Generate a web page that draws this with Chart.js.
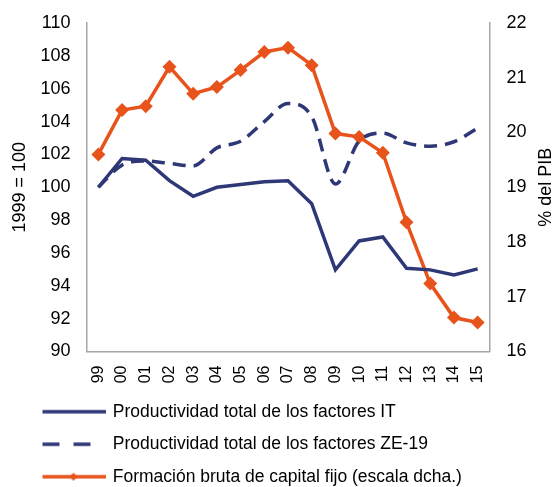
<!DOCTYPE html>
<html>
<head>
<meta charset="utf-8">
<script src="https://cdn.jsdelivr.net/npm/chart.js@4"></script>
<style>
  body { margin: 0; background: #fff; }
</style>
</head>
<body>
<canvas id="myChart" width="554" height="487"></canvas>
<script>
const years = ['99', '00', '01', '02', '03', '04', '05', '06', '07', '08', '09', '10', '11', '12', '13', '14', '15'];
const ptfIT = [100.0, 101.75, 101.65, 100.4, 99.45, 100.0, 100.17, 100.33, 100.4, 99.0, 94.97, 96.73, 96.97, 95.07, 94.97, 94.66, 95.03];
const ptfZE = [100.0, 101.35, 101.6, 101.45, 101.3, 102.4, 102.8, 104.0, 105.1, 104.3, 100.2, 102.8, 103.3, 102.7, 102.5, 102.77, 103.6];
const fbcf = [19.6, 20.41, 20.48, 21.2, 20.71, 20.83, 21.14, 21.47, 21.55, 21.23, 19.98, 19.92, 19.63, 18.36, 17.24, 16.62, 16.53];

const navy = '#2e3877';
const orange = '#e8531c';
const fontFamily = 'Liberation Sans, Arial, sans-serif';

// little line samples for the legend
function legendIcon(color, dash, len, marker) {
  const c = document.createElement('canvas');
  c.width = 64;
  c.height = 12;
  const ctx = c.getContext('2d');
  ctx.strokeStyle = color;
  ctx.lineWidth = 3.5;
  ctx.setLineDash(dash);
  ctx.beginPath();
  ctx.moveTo(1, 6);
  ctx.lineTo(len, 6);
  ctx.stroke();
  if (marker) {
    ctx.fillStyle = color;
    ctx.beginPath();
    ctx.moveTo(32, 2);
    ctx.lineTo(36, 6);
    ctx.lineTo(32, 10);
    ctx.lineTo(28, 6);
    ctx.closePath();
    ctx.fill();
  }
  return c;
}

const icons = [
  legendIcon(navy, [], 64, false),
  legendIcon(navy, [17, 14], 49, false),
  legendIcon(orange, [], 64, true),
];

const data = {
  labels: years,
  datasets: [{
    label: 'Productividad total de los factores IT',
    data: ptfIT,
    borderColor: navy,
    backgroundColor: navy,
    borderWidth: 3.5,
    pointRadius: 0,
    yAxisID: 'y',
  }, {
    label: 'Productividad total de los factores ZE-19',
    data: ptfZE,
    borderColor: navy,
    backgroundColor: navy,
    borderWidth: 3.5,
    borderDash: [13, 8],
    pointRadius: 0,
    cubicInterpolationMode: 'monotone',
    yAxisID: 'y',
  }, {
    label: 'Formación bruta de capital fijo (escala dcha.)',
    data: fbcf,
    borderColor: orange,
    backgroundColor: orange,
    borderWidth: 3.5,
    pointStyle: 'rectRot',
    pointRadius: 7,
    pointBorderWidth: 0,
    yAxisID: 'y1',
  }]
};

// legend sits further right and lower than chart.js puts it;
// right axis title reads bottom-to-top like the left one
const tweaks = {
  id: 'tweaks',
  beforeDraw(chart) {
    chart.legend.left = 28;
    chart.legend.top = 388;
  },
  afterDraw(chart) {
    const s = chart.scales.y1;
    const ctx = chart.ctx;
    ctx.save();
    ctx.translate(s.right - 8, (chart.chartArea.top + chart.chartArea.bottom) / 2);
    ctx.rotate(-Math.PI / 2);
    ctx.fillStyle = '#000';
    ctx.font = '18px ' + fontFamily;
    ctx.textAlign = 'center';
    ctx.textBaseline = 'middle';
    ctx.fillText('% del PIB', 0, 0);
    ctx.restore();
  }
};

const yTickFont = { family: fontFamily, size: 18 };

function fitY(width) {
  return (scale) => {
    scale.width = width;
    scale.paddingTop = 0;
    scale.paddingBottom = 0;
  };
}

const config = {
  type: 'line',
  data: data,
  options: {
    responsive: false,
    animation: false,
    layout: { padding: { top: 23, right: 0, left: 0, bottom: -8 } },
    plugins: {
      legend: {
        position: 'bottom',
        align: 'start',
        labels: {
          usePointStyle: true,
          pointStyleWidth: 61,
          padding: 15,
          color: '#000',
          font: { family: fontFamily, size: 17.5 },
          generateLabels(chart) {
            return chart.data.datasets.map((ds, i) => ({
              text: ds.label,
              pointStyle: icons[i],
              fillStyle: ds.borderColor,
              strokeStyle: ds.borderColor,
              lineWidth: 0,
              datasetIndex: i,
              hidden: false,
            }));
          }
        }
      },
      tooltip: { enabled: false },
    },
    scales: {
      x: {
        offset: true,
        grid: { display: false, drawTicks: false },
        border: { display: true, color: '#a6a6a6', width: 1.5 },
        ticks: { color: '#000', font: { family: fontFamily, size: 16 }, minRotation: 90, maxRotation: 90, padding: 14 },
        afterFit(scale) { scale.height = 36; },
      },
      y: {
        position: 'left',
        min: 90,
        max: 110,
        grid: { display: false, drawTicks: false },
        border: { display: true, color: '#a6a6a6', width: 1.5 },
        ticks: { stepSize: 2, color: '#000', font: yTickFont, padding: 16 },
        title: { display: true, text: '1999 = 100', color: '#000', font: yTickFont, padding: { top: 9, bottom: 4 } },
        afterFit: fitY(86.5),
      },
      y1: {
        position: 'right',
        min: 16,
        max: 22,
        grid: { display: false, drawTicks: false },
        border: { display: true, color: '#a6a6a6', width: 1.5 },
        ticks: { stepSize: 1, color: '#000', font: yTickFont, padding: 17 },
        title: { display: true, text: '% del PIB', color: 'rgba(0,0,0,0)', font: yTickFont, padding: { top: 0, bottom: 6 } },
        afterFit: fitY(64.5),
      }
    }
  },
  plugins: [tweaks],
};

const myChart = new Chart(
  document.getElementById('myChart'),
  config
);
</script>
</body>
</html>
